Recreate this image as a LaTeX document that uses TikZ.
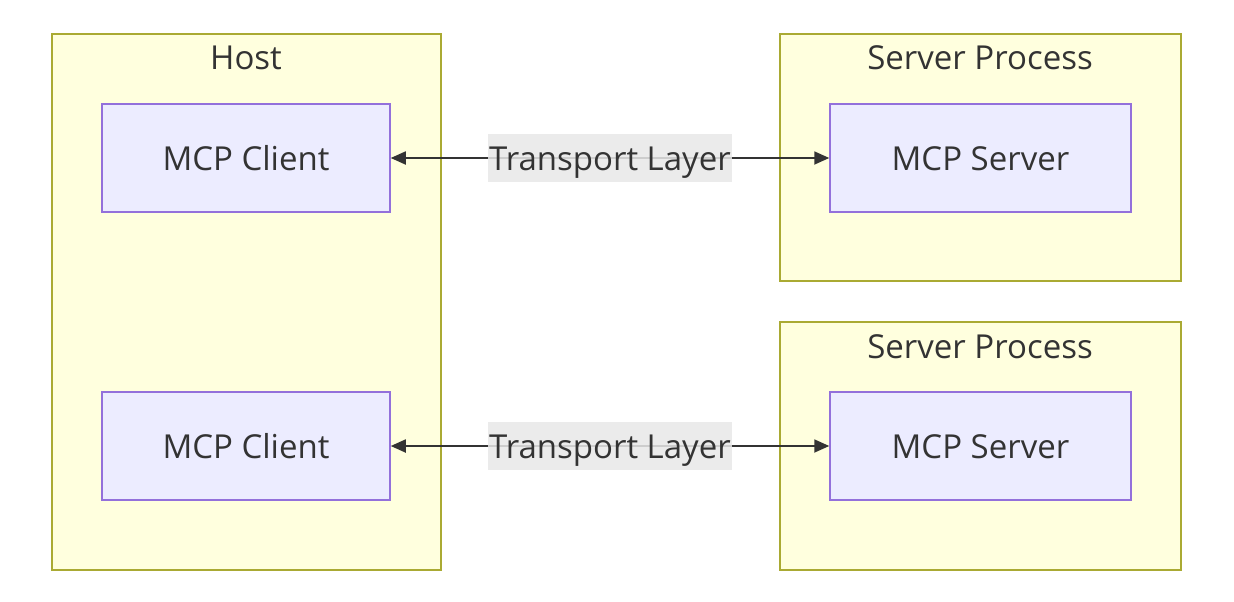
\documentclass[tikz,border=0pt]{standalone}
\usepackage{fontspec}
\setmainfont{Open Sans}
\usetikzlibrary{arrows.meta}

\definecolor{clusterfill}{HTML}{FFFFDE}
\definecolor{clusterline}{HTML}{AAAA33}
\definecolor{nodefill}{HTML}{ECECFF}
\definecolor{nodeline}{HTML}{9370DB}
\definecolor{labelfill}{HTML}{E8E8E8}
\definecolor{ink}{HTML}{333333}

\tikzset{
	cluster/.style={draw=clusterline,fill=clusterfill,line width=1.5pt},
	title/.style={text=ink,font=\fontsize{33}{40}\selectfont,anchor=center,text height=28pt,text depth=4pt},
	box/.style={draw=nodeline,fill=nodefill,line width=1.5pt,minimum width=288pt,minimum height=108pt,
		text=ink,font=\fontsize{33}{40}\selectfont,inner sep=0pt,text height=28pt,text depth=4pt},
	link/.style={draw=ink,line width=1.8pt,{Triangle[length=15pt,width=13pt]}-{Triangle[length=15pt,width=13pt]}},
	linklabel/.style={fill=labelfill,fill opacity=0.85,text opacity=1,text=ink,
		font=\fontsize{33}{40}\selectfont,inner xsep=1pt,inner ysep=8pt,text height=28pt,text depth=4pt},
}

\begin{document}
\begin{tikzpicture}[x=1pt,y=-1pt]
	\useasboundingbox (0,0) rectangle (1234,602);

	%CLUSTERS
	\draw[cluster] (52,34) rectangle (441,570);		%host
	\draw[cluster] (780,34) rectangle (1181,281);	%server process, top
	\draw[cluster] (780,322) rectangle (1181,570);	%server process, bottom
	\node[title] (host) at (246,58) {Host};
	\node[title] (proc1) at (980,58) {Server Process};
	\node[title] (proc2) at (980,346) {Server Process};

	%BOXES
	\node[box] (client1) at (246,158) {MCP Client};
	\node[box] (client2) at (246,446) {MCP Client};
	\node[box,minimum width=301pt] (server1) at (980.5,158) {MCP Server};
	\node[box,minimum width=301pt] (server2) at (980.5,446) {MCP Server};

	%LINKS
	\draw[link] (client1) -- node[linklabel] (trans1) {Transport Layer} (server1);
	\draw[link] (client2) -- node[linklabel] (trans2) {Transport Layer} (server2);
\end{tikzpicture}
\end{document}
